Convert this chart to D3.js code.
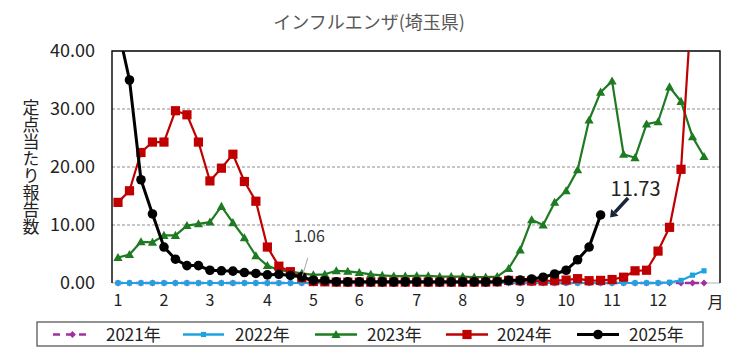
<!DOCTYPE html>
<html><head><meta charset="utf-8">
<script src="https://cdn.jsdelivr.net/npm/d3@7"></script>
<style>
html,body{margin:0;padding:0;background:#fff;}
svg{display:block;font-family:"Noto Sans CJK JP","Noto Sans",sans-serif;}
</style></head>
<body>
<svg id="chart" width="740" height="356"></svg>
<script>
// ---- data ----
const title = "インフルエンザ(埼玉県)";
const yTitle = "定点当たり報告数";
const seriesNames = ["2021年","2022年","2023年","2024年","2025年"];
const monthLabels = ["1","2","3","4","5","6","7","8","9","10","11","12","月"];
const monthWeeks  = [1,5,9,14,18,22,27,31,36,40,44,48,53];
const yTicks = [0,10,20,30,40];

const s2021 = [0,0,0,0,0,0,0,0,0,0,0,0,0,0,0,0,0,0,0,0,0,0,0,0,0,0,
               0,0,0,0,0,0,0,0,0,0,0,0,0,0,0,0,0,0,0,0,0,0,0,0,0,0];
const s2022 = [0,0,0,0,0,0,0,0,0,0,0,0,0,0,0,0,0,0,0,0,0,0,0,0,0,0,
               0,0,0,0,0,0,0,0,0,0,0,0,0,0,0,0,0,0,0,0,0,0.02,0.12,0.45,1.35,2.1];
const s2023 = [4.4,4.9,7.1,7.0,8.2,8.2,9.9,10.2,10.5,13.2,10.4,7.8,4.7,3.0,2.2,1.95,1.65,1.4,1.5,2.1,2.0,1.8,1.5,1.3,1.2,1.2,
               1.25,1.25,1.1,1.1,1.1,1.0,1.0,1.1,2.5,5.7,10.9,10.0,13.9,15.9,19.5,28.1,32.9,34.8,22.2,21.6,27.4,27.8,33.8,31.3,25.2,21.8];
const s2024 = [13.9,15.9,22.5,24.3,24.3,29.7,29.0,24.3,17.6,19.8,22.2,17.5,14.1,6.2,2.9,1.95,0.9,0.25,0.2,0.15,0.15,0.15,0.15,0.15,0.15,0.15,
               0.15,0.15,0.15,0.15,0.15,0.15,0.15,0.2,0.45,0.4,0.35,0.35,0.4,0.5,0.75,0.4,0.45,0.6,1.0,2.1,2.2,5.5,9.6,19.6,50.5,64.0];
const s2025 = [44.0,35.0,17.8,11.9,6.2,4.1,3.0,3.0,2.2,2.1,2.05,1.8,1.65,1.4,1.5,1.3,1.06,0.45,0.4,0.22,0.2,0.2,0.2,0.2,0.2,0.2,
               0.2,0.2,0.2,0.2,0.2,0.2,0.2,0.22,0.45,0.5,0.7,1.0,1.55,2.2,4.0,6.2,11.73];

const colors = ["#a3309f","#1fa2e0","#1e7b22","#c00000","#000000"];
const allSeries = [s2021,s2022,s2023,s2024,s2025];

// ---- layout ----
const svg = d3.select("#chart");
const L = 112, R = 720, T = 51, B = 283;
const x = d3.scaleLinear().domain([1,52]).range([118,704]);
const y = d3.scaleLinear().domain([0,40]).range([B,T]);

// title
svg.append("text").attr("x",369).attr("y",29).attr("text-anchor","middle")
  .attr("font-size",18).attr("fill","#595959").text(title);

// y title (vertical)
svg.append("text").attr("x",31).attr("y",167).attr("text-anchor","middle")
  .attr("font-size",17).attr("fill","#222")
  .style("writing-mode","vertical-rl").style("text-orientation","upright")
  .text(yTitle);

// gridlines
svg.append("g").selectAll("line").data(yTicks.filter(d=>d>0 && d<40)).join("line")
  .attr("x1",L).attr("x2",R).attr("y1",d=>y(d)).attr("y2",d=>y(d))
  .attr("stroke","#8c8c8c").attr("stroke-width",1).attr("stroke-dasharray","3,2");

// y axis labels
svg.append("g").selectAll("text").data(yTicks).join("text")
  .attr("x",95).attr("y",d=>y(d)).attr("dy","0.36em").attr("text-anchor","end")
  .attr("font-size",18).attr("fill","#222").text(d=>d.toFixed(2));

// x axis labels
svg.append("g").selectAll("text").data(monthLabels).join("text")
  .attr("x",(d,i)=>x(monthWeeks[i])).attr("y",(d,i)=> i===12 ? 302 : 300).attr("dy","0.36em")
  .attr("text-anchor","middle").attr("font-size",16).attr("fill","#222").text(d=>d);

// frame
svg.append("line").attr("x1",L).attr("x2",R).attr("y1",B).attr("y2",B).attr("stroke","#b0b0b0").attr("stroke-width",1);
svg.append("path").attr("d",`M${L},${B}V${T}H${R}V${B}`).attr("fill","none").attr("stroke","#000").attr("stroke-width",1.4);

// clip
svg.append("clipPath").attr("id","clip").append("rect").attr("x",100).attr("y",T).attr("width",630).attr("height",260);
const plot = svg.append("g").attr("clip-path","url(#clip)");

const line = d3.line().x((d,i)=>x(i+1)).y(d=>y(d));
const lineW = [2.5,2.2,2.2,2.2,3];

function marker(g, k, cx, cy, c){
  if(k===0){ const s=3.4; g.append("path").attr("d",`M${cx},${cy-s}L${cx+s},${cy}L${cx},${cy+s}L${cx-s},${cy}Z`).attr("fill",c); }
  else if(k===1){ g.append("rect").attr("x",cx-2.6).attr("y",cy-2.6).attr("width",5.2).attr("height",5.2).attr("fill",c); }
  else if(k===2){ const s=4.6; g.append("path").attr("d",`M${cx},${cy-s}L${cx+s},${cy+s*0.75}L${cx-s},${cy+s*0.75}Z`).attr("fill",c); }
  else if(k===3){ g.append("rect").attr("x",cx-4.6).attr("y",cy-4.6).attr("width",9.2).attr("height",9.2).attr("fill",c); }
  else { g.append("circle").attr("cx",cx).attr("cy",cy).attr("r",4.8).attr("fill",c); }
}

allSeries.forEach((s,k)=>{
  const g = plot.append("g");
  g.append("path").attr("d",line(s)).attr("fill","none").attr("stroke",colors[k])
    .attr("stroke-width",lineW[k]).attr("stroke-linejoin","round")
    .attr("stroke-dasharray", k===0 ? "5,4" : null);
  s.forEach((v,i)=>marker(g,k,x(i+1),y(v),colors[k]));
});

// annotation 1.06
const p1x = x(17), p1y = y(s2025[16]);
svg.append("line").attr("x1",p1x+6).attr("y1",p1y-19).attr("x2",p1x+0.5).attr("y2",p1y-1)
  .attr("stroke","#a6a6a6").attr("stroke-width",1);
svg.append("text").attr("x",p1x+7.5).attr("y",p1y-35).attr("text-anchor","middle")
  .attr("font-size",16).attr("fill","#333").text(s2025[16].toFixed(2));

// annotation 11.73
const p2x = x(43), p2y = y(s2025[42]);
svg.append("text").attr("x",p2x+35).attr("y",p2y-19).attr("text-anchor","middle")
  .attr("font-size",20).attr("fill","#222").text(s2025[42].toFixed(2));
const ax1 = p2x+27.5, ay1 = p2y-17, ax2 = p2x+9.5, ay2 = p2y+2.5;
const ang = Math.atan2(ay2-ay1, ax2-ax1);
const hx = ax2 - 7*Math.cos(ang), hy = ay2 - 7*Math.sin(ang);
svg.append("line").attr("x1",ax1).attr("y1",ay1).attr("x2",hx).attr("y2",hy)
  .attr("stroke","#17263a").attr("stroke-width",3.5);
const px = -Math.sin(ang), py = Math.cos(ang);
svg.append("path").attr("d",`M${ax2},${ay2}L${hx+5*px},${hy+5*py}L${hx-5*px},${hy-5*py}Z`).attr("fill","#17263a");

// legend
const lg = svg.append("g");
lg.append("rect").attr("x",37).attr("y",322).attr("width",666).attr("height",24)
  .attr("fill","#fff").attr("stroke","#595959").attr("stroke-width",1.3);
const lgLine = [[53,92],[183,224],[315,357],[446,488],[577,619]];
const lgText = [106,235,367,497,629];
seriesNames.forEach((n,k)=>{
  const [a,b] = lgLine[k];
  lg.append("line").attr("x1",a).attr("x2",b).attr("y1",334.5).attr("y2",334.5)
    .attr("stroke",colors[k]).attr("stroke-width",k===4?3:2.5)
    .attr("stroke-dasharray", k===0 ? "7,6" : null);
  marker(lg,k,(a+b)/2,334.5,colors[k]);
  lg.append("text").attr("x",lgText[k]).attr("y",334.5).attr("dy","0.36em")
    .attr("font-size",17).attr("fill","#222").text(n);
});
</script>
</body></html>
